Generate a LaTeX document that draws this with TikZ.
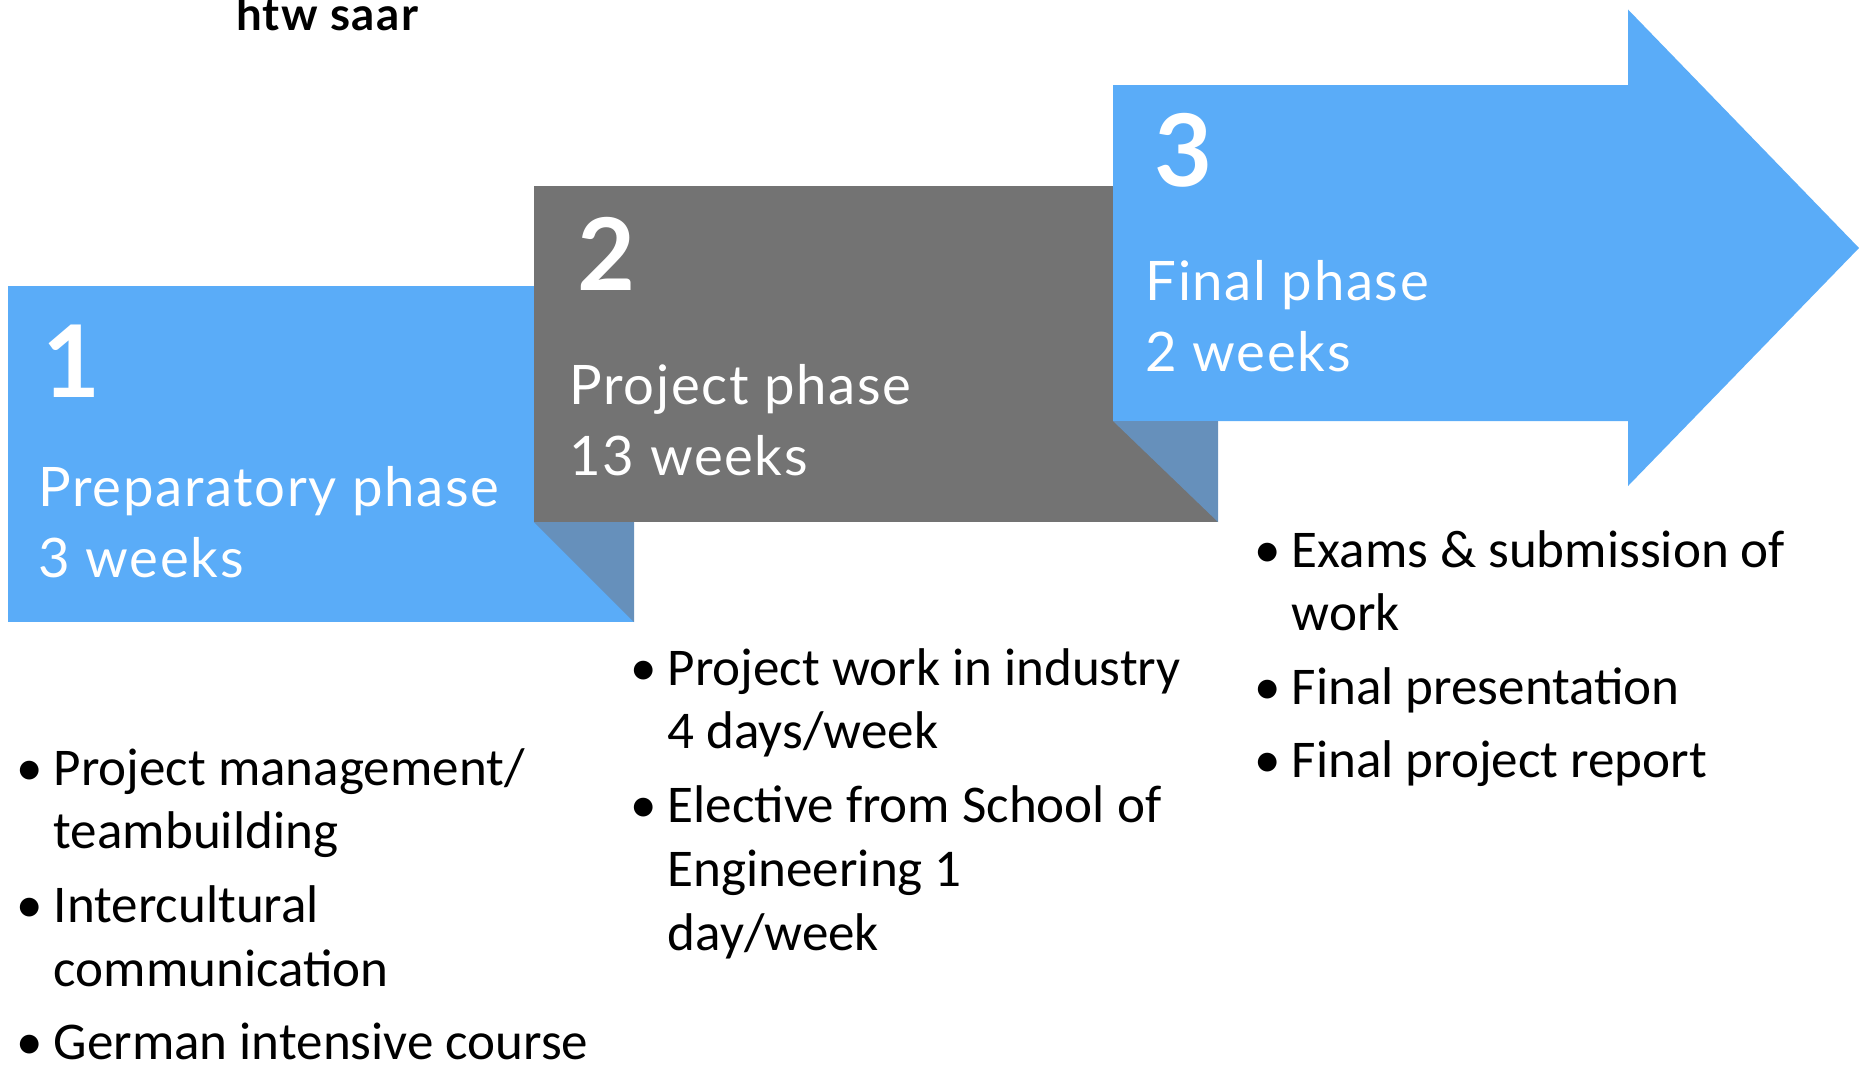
\documentclass[tikz,border=0pt]{standalone}
\usepackage{fontspec}
\setmainfont{Carlito}
\newfontfamily\phasefont[LetterSpace=3]{Lato}
\usetikzlibrary{positioning}
\definecolor{phaseblue}{HTML}{5AACF8}
\definecolor{phasegray}{HTML}{737373}
\definecolor{foldblue}{HTML}{6690BB}
\tikzset{
  phasenum/.style={anchor=base west,inner sep=0pt,text=white,font=\phasefont\bfseries\fontsize{28.5}{28.5}\selectfont},
  phasetext/.style={anchor=base west,inner sep=0pt,text=white,align=left,font=\phasefont\fontsize{15.5}{20.2}\selectfont},
  itemlist/.style={anchor=base west,inner sep=0pt,font=\fontsize{15.1}{18.2}\selectfont},
}
\newcommand{\bul}{\llap{•\hspace{1.1mm}}}
\begin{document}
\begin{tikzpicture}
\useasboundingbox (0,0) rectangle (18.59,10.64);
\node[anchor=base,inner sep=0pt,font=\phasefont\bfseries\fontsize{13}{13}\selectfont] (logo) at (3.27,10.34) {htw saar};
% phase 1
\fill[phaseblue] (0.08,4.42) rectangle (6.34,7.78);
\node[phasenum] (num1) at (0.42,6.67) {1};
\node[phasetext] (prep) at (0.38,4.87) {Preparatory phase\\3 weeks};
% phase 2
\fill[phasegray] (5.34,5.42) rectangle (12.18,8.78);
\fill[foldblue] (5.34,5.42) -- (6.34,5.42) -- (6.34,4.42) -- cycle;
\node[phasenum] (num2) at (5.77,7.74) {2};
\node[phasetext] (proj) at (5.69,5.89) {Project phase\\13 weeks};
% phase 3
\fill[phaseblue] (11.13,6.43) -- (16.28,6.43) -- (16.28,5.78) -- (18.59,8.16)
  -- (16.28,10.545) -- (16.28,9.79) -- (11.13,9.79) -- cycle;
\fill[foldblue] (11.13,6.43) -- (12.18,6.43) -- (12.18,5.42) -- cycle;
\node[phasenum] (num3) at (11.54,8.78) {3};
\node[phasetext] (final) at (11.45,6.93) {Final phase\\2 weeks};
% lists
\node[itemlist] (list1) at (0.53,2.79) {\begin{tabular}[t]{@{}l@{}}
\bul Project management/\\ teambuilding\\[2.7pt]
\bul Intercultural\\ communication\\[2.7pt]
\bul German intensive course\end{tabular}};
\node[itemlist] (list2) at (6.67,3.79) {\begin{tabular}[t]{@{}l@{}}
\bul Project work in industry\\ 4 days/week\\[2.7pt]
\bul Elective from School of\\ Engineering 1\\ day/week\end{tabular}};
\node[itemlist] (list3) at (12.91,4.97) {\begin{tabular}[t]{@{}l@{}}
\bul Exams \& submission of\\ work\\[2.7pt]
\bul Final presentation\\[2.7pt]
\bul Final project report\end{tabular}};
\end{tikzpicture}
\end{document}
